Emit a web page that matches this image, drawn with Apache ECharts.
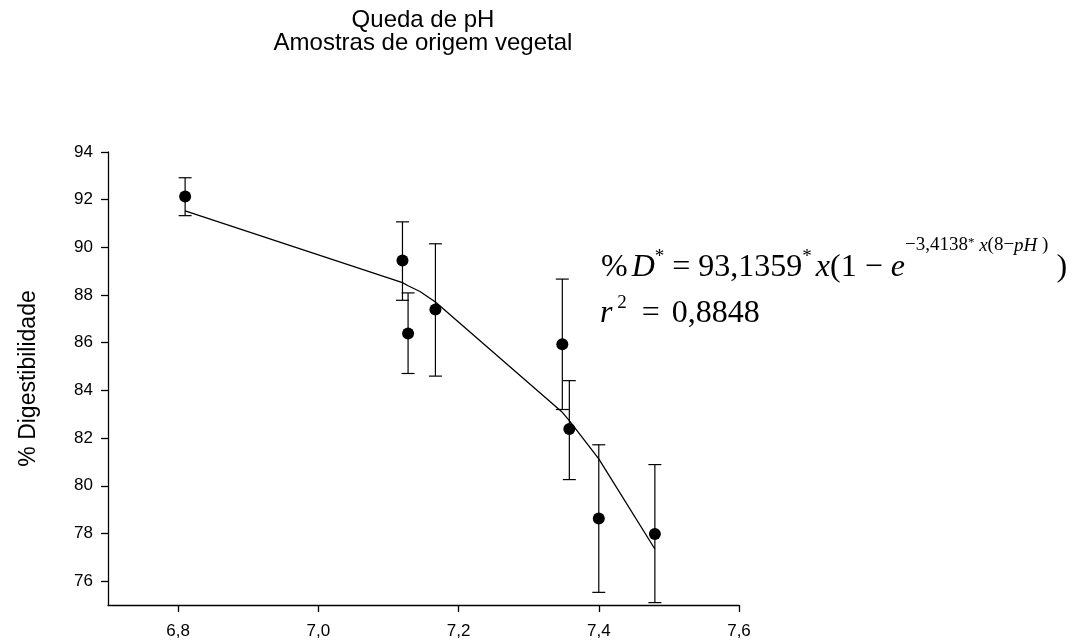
<!DOCTYPE html>
<html>
<head>
<meta charset="utf-8">
<title>Queda de pH</title>
<script src="https://cdn.jsdelivr.net/npm/echarts@6/dist/echarts.min.js"></script>
<style>
    html, body { margin: 0; padding: 0; background: #fff; }
    #report_box { width: 1076px; height: 643px; }
</style>
</head>
<body>
<div id="report_box"></div>
<script>
// valores
var phValues   = [6.81, 7.12, 7.128, 7.167, 7.348, 7.358, 7.40, 7.48];
var meanValues = [92.13, 89.45, 86.39, 87.39, 85.94, 82.38, 78.63, 77.98];
var errLow     = [91.33, 87.78, 84.71, 84.60, 83.20, 80.26, 75.53, 75.10];
var errHigh    = [92.92, 91.07, 88.09, 90.15, 88.67, 84.41, 81.72, 80.89];
// curva ajustada
var fitPh      = [6.81, 7.12, 7.128, 7.145, 7.167, 7.348, 7.358, 7.40, 7.48];
var fitValues  = [91.53, 88.52, 88.39, 88.15, 87.71, 83.08, 82.73, 81.13, 77.35];
var xTicks = [6.8, 7.0, 7.2, 7.4, 7.6];
var yTicks = [76, 78, 80, 82, 84, 86, 88, 90, 92, 94];

var sans = 'Liberation Sans';
var serif = 'Liberation Serif';

function init(){
    var myChart = echarts.init(document.getElementById('report_box'));

    var points = [], bars = [], fit = [];
    for (var i = 0; i < phValues.length; i++) {
        points.push([phValues[i], meanValues[i]]);
        bars.push([phValues[i], errLow[i], errHigh[i]]);
    }
    for (var j = 0; j < fitPh.length; j++) {
        fit.push([fitPh[j], fitValues[j]]);
    }

    var eqRich = {
        n: { fontFamily: serif, fontSize: 32, verticalAlign: 'bottom' },
        i: { fontFamily: serif, fontSize: 32, fontStyle: 'italic', verticalAlign: 'bottom' },
        ip: { fontFamily: serif, fontSize: 32, fontStyle: 'italic', verticalAlign: 'bottom', padding: [0, 0, 0, 4] },
        eq: { fontFamily: serif, fontSize: 32, verticalAlign: 'bottom', padding: [0, 4, 0, 7] },
        s: { fontFamily: serif, fontSize: 19, verticalAlign: 'bottom', padding: [0, 0, 17, 0] },
        e: { fontFamily: serif, fontSize: 19, verticalAlign: 'top' },
        ei: { fontFamily: serif, fontSize: 19, fontStyle: 'italic', verticalAlign: 'top' },
        es: { fontFamily: serif, fontSize: 13, verticalAlign: 'top' }
    };

    var option = {
        backgroundColor: '#fff',
        animation: false,
        grid: { left: 108, right: 337, top: 152, bottom: 38 },
        xAxis: {
            type: 'value', min: 6.7, max: 7.6,
            splitLine: { show: false },
            axisLine: { lineStyle: { color: '#000', width: 1.3 } },
            axisTick: { customValues: xTicks, length: 7, lineStyle: { color: '#000', width: 1.3 } },
            axisLabel: {
                customValues: xTicks, margin: 18, color: '#000', fontFamily: sans, fontSize: 17,
                formatter: function (v) { return v.toFixed(1).replace('.', ','); }
            }
        },
        yAxis: {
            type: 'value', min: 75, max: 94,
            name: '% Digestibilidade', nameLocation: 'middle', nameGap: 68, nameRotate: 90,
            nameTextStyle: { color: '#000', fontFamily: sans, fontSize: 23 },
            splitLine: { show: false },
            axisLine: { show: true, lineStyle: { color: '#000', width: 1.3 } },
            axisTick: { show: true, customValues: yTicks, length: 7, lineStyle: { color: '#000', width: 1.3 } },
            axisLabel: { customValues: yTicks, margin: 15, color: '#000', fontFamily: sans, fontSize: 17 }
        },
        graphic: [
            {
                type: 'text', x: 423, y: 9,
                style: {
                    text: 'Queda de pH\nAmostras de origem vegetal',
                    align: 'center', verticalAlign: 'top',
                    font: '24px ' + sans, lineHeight: 23, fill: '#000'
                }
            },
            {
                type: 'text', x: 601, y: 236,
                style: {
                    text: '{n|%}{ip|D}{s|*}{n| = 93,1359}{s|*}{ip|x}{n|(1 − }{i|e}{e|−3,4138}{es|*}{ei| x}{e|(8−}{ei|pH}{e| )}{n| )}',
                    lineHeight: 48, fill: '#000',
                    rich: eqRich
                }
            },
            {
                type: 'text', x: 600, y: 286,
                style: {
                    text: '{i|r}{s| 2}{eq| = }{n|0,8848}',
                    lineHeight: 44, fill: '#000',
                    rich: eqRich
                }
            }
        ],
        series: [
            {
                type: 'custom',
                data: bars,
                encode: { x: 0, y: [1, 2] },
                z: 2,
                renderItem: function (params, api) {
                    var lo = api.coord([api.value(0), api.value(1)]);
                    var hi = api.coord([api.value(0), api.value(2)]);
                    var w = 6.5;
                    var st = { stroke: '#000', lineWidth: 1.2 };
                    return {
                        type: 'group',
                        children: [
                            { type: 'line', shape: { x1: lo[0], y1: lo[1], x2: hi[0], y2: hi[1] }, style: st },
                            { type: 'line', shape: { x1: lo[0] - w, y1: lo[1], x2: lo[0] + w, y2: lo[1] }, style: st },
                            { type: 'line', shape: { x1: hi[0] - w, y1: hi[1], x2: hi[0] + w, y2: hi[1] }, style: st }
                        ]
                    };
                }
            },
            {
                type: 'line',
                data: fit,
                symbol: 'none',
                z: 3,
                lineStyle: { color: '#000', width: 1.3 }
            },
            {
                type: 'scatter',
                data: points,
                symbol: 'circle',
                symbolSize: 12,
                z: 4,
                itemStyle: { color: '#000', opacity: 1 }
            }
        ]
    };
    myChart.setOption(option);
}

init();
</script>
</body>
</html>
